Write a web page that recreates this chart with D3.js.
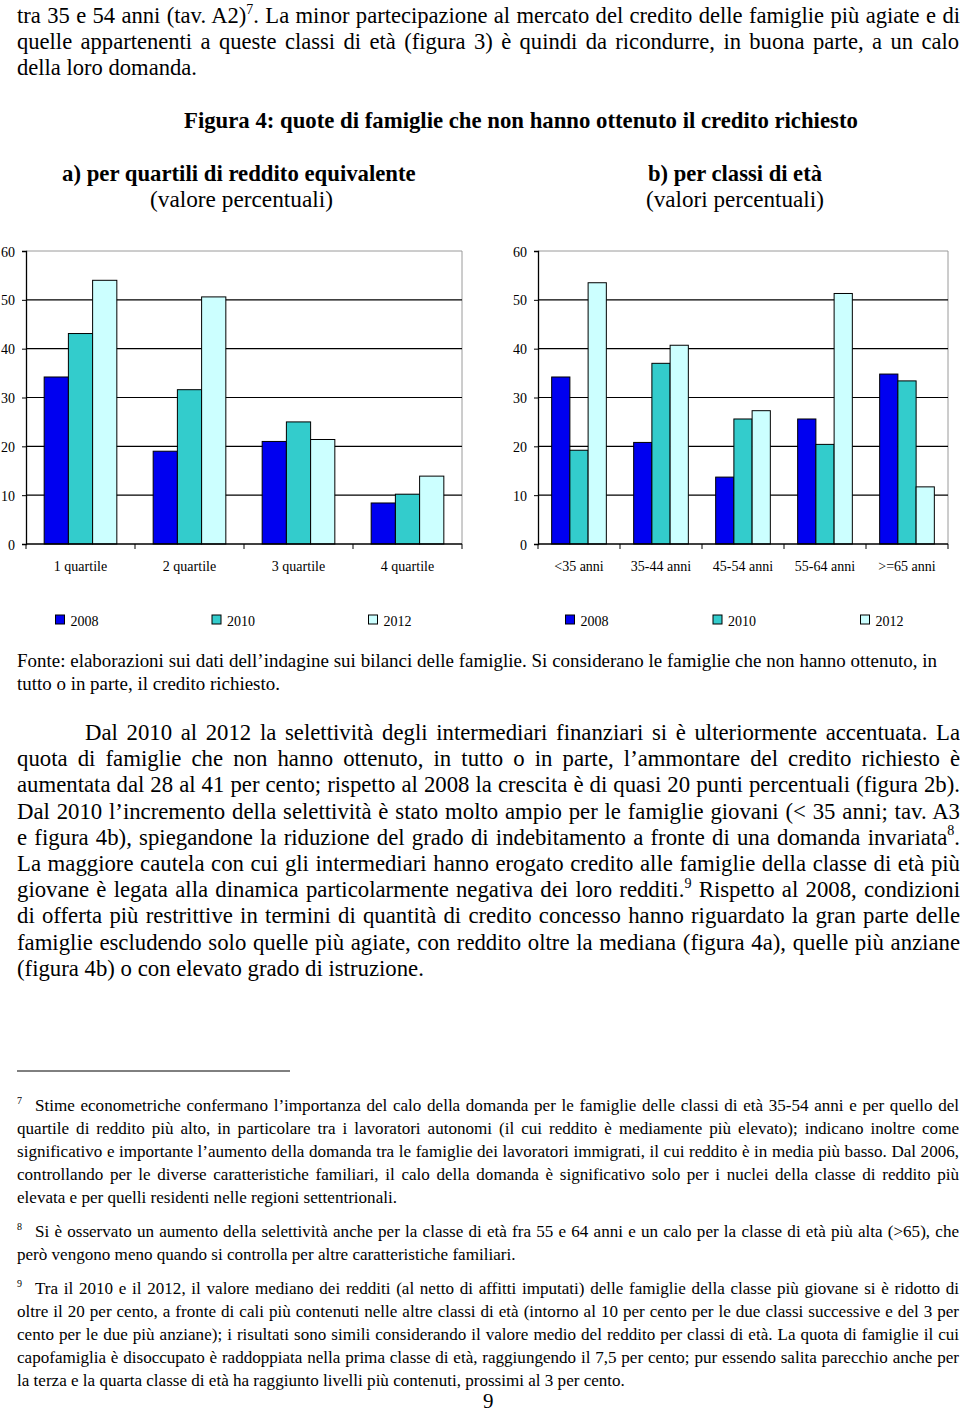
<!DOCTYPE html>
<html><head><meta charset="utf-8">
<script src="https://cdn.jsdelivr.net/npm/d3@7"></script>
<style>
html,body{margin:0;padding:0;background:#fff;}
svg{display:block;}
</style></head>
<body>
<svg id="page" width="960" height="1413"></svg>
<script>
// ---------- DATA ----------
const seriesNames = ["2008", "2010", "2012"];
const quartiliCats = ["1 quartile", "2 quartile", "3 quartile", "4 quartile"];
const quartili2008 = [34.2, 19.0, 21.0, 8.4];
const quartili2010 = [43.1, 31.6, 25.0, 10.2];
const quartili2012 = [54.0, 50.6, 21.4, 13.9];
const etaCats = ["<35 anni", "35-44 anni", "45-54 anni", "55-64 anni", ">=65 anni"];
const eta2008 = [34.2, 20.8, 13.7, 25.6, 34.8];
const eta2010 = [19.2, 37.0, 25.6, 20.4, 33.4];
const eta2012 = [53.5, 40.7, 27.3, 51.3, 11.7];
const yTicks = [0, 10, 20, 30, 40, 50, 60];
const colors = ["#0000f0", "#33cccc", "#ccffff"];

const svg = d3.select("#page");
const SERIF = "Liberation Serif, Times New Roman, serif";

// ---------- TEXT HELPERS ----------
function makeText(x, y, size, str, bold) {
  const t = svg.append("text")
    .attr("x", x).attr("y", y)
    .style("font-family", SERIF)
    .style("font-size", size + "px")
    .style("font-weight", bold ? "bold" : "normal")
    .attr("fill", "#000");
  const parts = str.split(/(\^\d)/).filter(p => p);
  let reset = false;
  parts.forEach(p => {
    if (p[0] === "^") {
      t.append("tspan").style("font-size", (size * 0.62) + "px").attr("dy", -size * 0.42).text(p.slice(1));
      reset = true;
    } else {
      const ts = t.append("tspan").text(p);
      if (reset) { ts.attr("dy", size * 0.42); reset = false; }
    }
  });
  return t;
}
function natural(str, size, bold) {
  const t = makeText(0, -100, size, str, bold);
  const w = t.node().getComputedTextLength();
  t.remove();
  return w;
}
// size so that str spans width
function fitSize(str, width, bold) {
  return 20 * width / natural(str, 20, bold);
}
// justified block: lines [x, y, text, width, isLast]
function block(lines, size) {
  lines.forEach(([x, y, s, w, last]) => {
    const t = makeText(x, y, size, s, false);
    const nat = t.node().getComputedTextLength();
    if (last) {
      if (nat > w * 1.03) t.attr("textLength", w).attr("lengthAdjust", "spacingAndGlyphs");
      return;
    }
    if (nat > w) {
      t.attr("textLength", w).attr("lengthAdjust", "spacingAndGlyphs");
    } else {
      const n = (s.match(/ /g) || []).length;
      t.style("word-spacing", ((w - nat) / Math.max(n, 1)) + "px");
      const bw = t.node().getBBox().width;
      if (Math.abs(bw - w) > 3) {
        t.style("word-spacing", null);
        t.attr("textLength", w).attr("lengthAdjust", "spacing");
      }
    }
  });
}
function titleLine(x, y, str, width, bold) {
  const size = fitSize(str, width, bold);
  makeText(x, y, size, str, bold);
}

// ---------- TOP PARAGRAPH ----------
const topLines = [
  [17, 23, "tra 35 e 54 anni (tav. A2)^7. La minor partecipazione al mercato del credito delle famiglie più agiate e di", 943, false],
  [17, 49, "quelle appartenenti a queste classi di età (figura 3) è quindi da ricondurre, in buona parte, a un calo", 942, false],
  [17, 75, "della loro domanda.", 180, true]
];

// ---------- TITLES ----------
titleLine(184, 128, "Figura 4: quote di famiglie che non hanno ottenuto il credito richiesto", 674, true);
titleLine(62, 181, "a) per quartili di reddito equivalente", 354, true);
titleLine(150, 207, "(valore percentuali)", 183, false);
titleLine(648, 181, "b) per classi di età", 174, true);
titleLine(646, 207, "(valori percentuali)", 178, false);

// ---------- CHARTS ----------
const y = d3.scaleLinear().domain([0, 60]).range([544, 251]);

function barChart(cats, values, x0, x1, legendStart, legendStep) {
  const g = svg.append("g");
  const x = d3.scaleBand().domain(cats).range([x0, x1]).padding(0);
  const xs = d3.scaleBand().domain(seriesNames).range([0, x.bandwidth()])
    .paddingInner(0).paddingOuter(0.75);

  g.append("line").attr("x1", x0).attr("x2", x1).attr("y1", y(60)).attr("y2", y(60))
    .attr("stroke", "#9a9a9a").attr("stroke-width", 1);
  g.append("line").attr("x1", x1).attr("x2", x1).attr("y1", y(60)).attr("y2", y(0))
    .attr("stroke", "#9a9a9a").attr("stroke-width", 1);

  g.selectAll("line.grid").data(yTicks.filter(v => v > 0 && v < 60)).join("line")
    .attr("class", "grid")
    .attr("x1", x0).attr("x2", x1)
    .attr("y1", d => y(d)).attr("y2", d => y(d))
    .attr("stroke", "#000").attr("stroke-width", 1.2);

  const rows = cats.map((c, i) => seriesNames.map((s, j) => ({cat: c, s, v: values[j][i], j})));
  g.selectAll("g.grp").data(rows).join("g")
    .attr("transform", d => `translate(${x(d[0].cat)},0)`)
    .selectAll("rect").data(d => d).join("rect")
    .attr("x", d => xs(d.s))
    .attr("width", xs.bandwidth())
    .attr("y", d => y(d.v))
    .attr("height", d => y(0) - y(d.v))
    .attr("fill", d => colors[d.j])
    .attr("stroke", "#000").attr("stroke-width", 1);

  const ya = d3.axisLeft(y).tickValues(yTicks).tickSize(4).tickPadding(7);
  const yg = g.append("g").attr("transform", `translate(${x0},0)`).call(ya);
  yg.select(".domain").attr("stroke", "#000").attr("stroke-width", 1.3);
  yg.selectAll(".tick line").attr("stroke", "#000");
  yg.selectAll("text").attr("font-family", SERIF).attr("font-size", 14).attr("fill", "#000").attr("dy", "0.36em");

  g.append("line").attr("x1", x0).attr("x2", x1).attr("y1", y(0)).attr("y2", y(0))
    .attr("stroke", "#000").attr("stroke-width", 1.3);
  const bounds = cats.map(c => x(c) + x.bandwidth()).concat([x0]);
  g.selectAll("line.xt").data(bounds).join("line").attr("class", "xt")
    .attr("x1", d => d).attr("x2", d => d).attr("y1", y(0)).attr("y2", y(0) + 5)
    .attr("stroke", "#000").attr("stroke-width", 1);
  g.selectAll("text.xl").data(cats).join("text").attr("class", "xl")
    .attr("x", d => x(d) + x.bandwidth() / 2).attr("y", 571)
    .attr("text-anchor", "middle")
    .attr("font-family", SERIF).attr("font-size", 14).text(d => d);

  const leg = g.selectAll("g.leg").data(seriesNames).join("g").attr("class", "leg")
    .attr("transform", (d, i) => `translate(${legendStart + i * legendStep},615)`);
  leg.append("rect").attr("width", 9).attr("height", 9)
    .attr("fill", (d, i) => colors[i]).attr("stroke", "#000").attr("stroke-width", 1);
  leg.append("text").attr("x", 15).attr("y", 11)
    .attr("font-family", SERIF).attr("font-size", 14).text(d => d);
}

barChart(quartiliCats, [quartili2008, quartili2010, quartili2012], 26, 462, 55.5, 156.5);
barChart(etaCats, [eta2008, eta2010, eta2012], 538, 948, 565.5, 147.5);

// ---------- FONTE ----------
const fonteLines = [
  [17, 667, "Fonte: elaborazioni sui dati dell’indagine sui bilanci delle famiglie. Si considerano le famiglie che non hanno ottenuto, in", 920, false],
  [17, 690, "tutto o in parte, il credito richiesto.", 263, true]
];

// ---------- BODY PARAGRAPH ----------
const bodyText = [
  "Dal 2010 al 2012 la selettività degli intermediari finanziari si è ulteriormente accentuata. La",
  "quota di famiglie che non hanno ottenuto, in tutto o in parte, l’ammontare del credito richiesto è",
  "aumentata dal 28 al 41 per cento; rispetto al 2008 la crescita è di quasi 20 punti percentuali (figura 2b).",
  "Dal 2010 l’incremento della selettività è stato molto ampio per le famiglie giovani (< 35 anni; tav. A3",
  "e figura 4b), spiegandone la riduzione del grado di indebitamento a fronte di una domanda invariata^8.",
  "La maggiore cautela con cui gli intermediari hanno erogato credito alle famiglie della classe di età più",
  "giovane è legata alla dinamica particolarmente negativa dei loro redditi.^9 Rispetto al 2008, condizioni",
  "di offerta più restrittive in termini di quantità di credito concesso hanno riguardato la gran parte delle",
  "famiglie escludendo solo quelle più agiate, con reddito oltre la mediana (figura 4a), quelle più anziane",
  "(figura 4b) o con elevato grado di istruzione."
];
const bodyLines = bodyText.map((s, i) => [i === 0 ? 85 : 17, 740 + i * 26.2, s,
  i === 0 ? 875 : (i === bodyText.length - 1 ? 407 : 943), i === bodyText.length - 1]);

// ---------- FOOTNOTES ----------
const fn7 = [
  "Stime econometriche confermano l’importanza del calo della domanda per le famiglie delle classi di età 35-54 anni e per quello del",
  "quartile di reddito più alto, in particolare tra i lavoratori autonomi (il cui reddito è mediamente più elevato); indicano inoltre come",
  "significativo e importante l’aumento della domanda tra le famiglie dei lavoratori immigrati, il cui reddito è in media più basso. Dal 2006,",
  "controllando per le diverse caratteristiche familiari, il calo della domanda è significativo solo per i nuclei della classe di reddito più",
  "elevata e per quelli residenti nelle regioni settentrionali."];
const fn8 = [
  "Si è osservato un aumento della selettività anche per la classe di età fra 55 e 64 anni e un calo per la classe di età più alta (>65), che",
  "però vengono meno quando si controlla per altre caratteristiche familiari."];
const fn9 = [
  "Tra il 2010 e il 2012, il valore mediano dei redditi (al netto di affitti imputati) delle famiglie della classe più giovane si è ridotto di",
  "oltre il 20 per cento, a fronte di cali più contenuti nelle altre classi di età (intorno al 10 per cento per le due classi successive e del 3 per",
  "cento per le due più anziane); i risultati sono simili considerando il valore medio del reddito per classi di età. La quota di famiglie il cui",
  "capofamiglia è disoccupato è raddoppiata nella prima classe di età, raggiungendo il 7,5 per cento; pur essendo salita parecchio anche per",
  "la terza e la quarta classe di età ha raggiunto livelli più contenuti, prossimi al 3 per cento."];
const footnotes = [["7", 1111, fn7, 381], ["8", 1237, fn8, 498], ["9", 1294, fn9, 608]];

// ---------- SIZE FITTING ----------
const topSize = fitSize(topLines[2][2], 180, false);
block(topLines, topSize);
const fonteSize = fitSize(fonteLines[1][2], 263, false);
block(fonteLines, fonteSize);
const bodySize = fitSize(bodyText[bodyText.length - 1], 407, false);
block(bodyLines, bodySize);

const fnSize = d3.mean(footnotes, f => fitSize(f[2][f[2].length - 1], f[3], false));
svg.append("line").attr("x1", 17).attr("x2", 290).attr("y1", 1071).attr("y2", 1071)
  .attr("stroke", "#000").attr("stroke-width", 1);
footnotes.forEach(([n, yb, lines, lastW]) => {
  svg.append("text").attr("x", 17).attr("y", yb - 7)
    .style("font-family", SERIF).style("font-size", "10px").text(n);
  block(lines.map((s, i) => {
    const x = i === 0 ? 35 : 17;
    const last = i === lines.length - 1;
    return [x, yb + i * 23, s, last ? lastW : 959 - x, last];
  }), fnSize);
});

// page number
makeText(483, 1408, 21, "9", false);
</script>
</body></html>
